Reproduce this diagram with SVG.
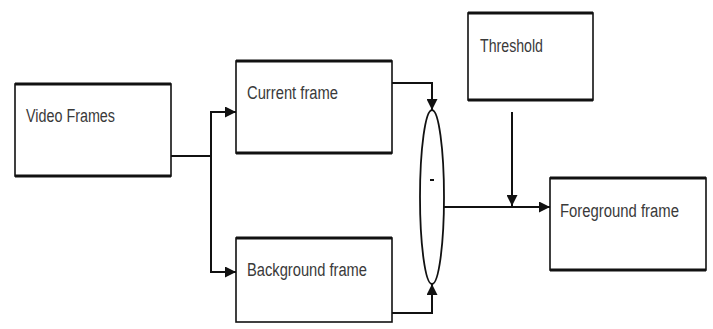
<svg xmlns="http://www.w3.org/2000/svg" width="713" height="329" viewBox="0 0 713 329">
<style>
.box{fill:#fff;stroke:#111;stroke-width:1.6}
.rule{stroke:#111;stroke-width:3}
.edge{fill:none;stroke:#111;stroke-width:2}
.lbl{font-family:"Liberation Sans",Arial,sans-serif;font-size:18px;fill:#3a3a3a}
</style>
<defs>
<marker id="ah" viewBox="0 0 10 10" refX="10" refY="5" markerWidth="11" markerHeight="11" markerUnits="userSpaceOnUse" orient="auto">
<path d="M0,0 L10,5 L0,10 z" fill="#111"/>
</marker>
</defs>
<rect width="713" height="329" fill="#fff"/>
<g id="video">
<rect class="box" x="15" y="84" width="156" height="92"/>
<path class="rule" d="M15,84 H171 M15,176 H171"/>
<text class="lbl" x="26" y="122" textLength="89" lengthAdjust="spacingAndGlyphs">Video Frames</text>
</g>
<g id="current">
<rect class="box" x="236" y="61" width="156" height="92"/>
<path class="rule" d="M236,61 H392 M236,153 H392"/>
<text class="lbl" x="247" y="99" textLength="91" lengthAdjust="spacingAndGlyphs">Current frame</text>
</g>
<g id="background">
<rect class="box" x="236" y="238" width="156" height="84"/>
<path class="rule" d="M236,238 H392"/>
<text class="lbl" x="247" y="276" textLength="120" lengthAdjust="spacingAndGlyphs">Background frame</text>
</g>
<g id="subtract">
<ellipse cx="432" cy="197" rx="12" ry="87" fill="#fff" stroke="#111" stroke-width="1.8"/>
<path d="M430,180 H434" stroke="#111" stroke-width="2"/>
</g>
<g id="threshold">
<rect class="box" x="468" y="13" width="125" height="87"/>
<path class="rule" d="M468,13 H593 M468,100 H593"/>
<text class="lbl" x="480" y="52" textLength="63" lengthAdjust="spacingAndGlyphs">Threshold</text>
</g>
<g id="foreground">
<rect class="box" x="550" y="178" width="156" height="92"/>
<path class="rule" d="M550,178 H706 M550,270 H706"/>
<text class="lbl" x="560" y="217" font-size="17" textLength="119" lengthAdjust="spacingAndGlyphs">Foreground frame</text>
</g>
<g id="connectors">
<path class="edge" d="M171,156 H211"/>
<path class="edge" d="M211,156 V112 H236" marker-end="url(#ah)"/>
<path class="edge" d="M211,156 V272 H236" marker-end="url(#ah)"/>
<path class="edge" d="M392,83 H432 V110" marker-end="url(#ah)"/>
<path class="edge" d="M392,313 H432 V284" marker-end="url(#ah)"/>
<path class="edge" d="M444,207 H550" marker-end="url(#ah)"/>
<path class="edge" d="M512,112 V206" marker-end="url(#ah)"/>
</g>
</svg>
